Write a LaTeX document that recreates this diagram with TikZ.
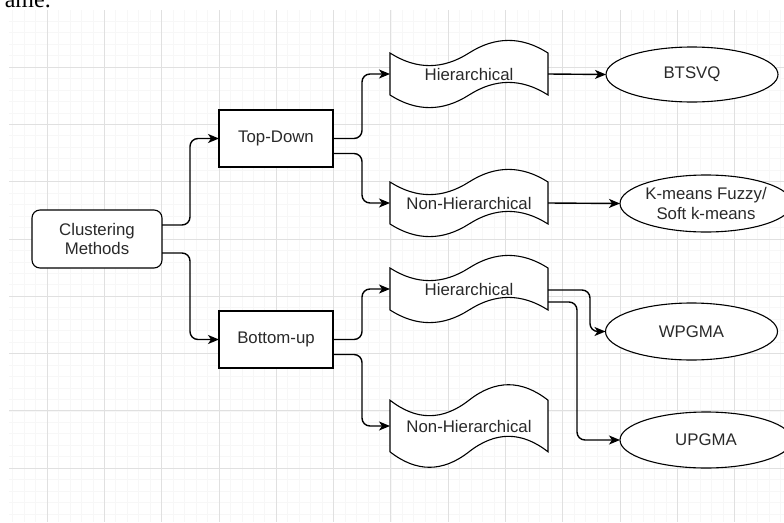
\documentclass[tikz,border=0pt]{standalone}
\usepackage{fontspec}
\setmainfont{Liberation Sans}
\newfontfamily\bodyserif{Liberation Serif}
\usetikzlibrary{arrows.meta,shapes.geometric}

\pgfdeclarelayer{gridlayer}
\pgfdeclarelayer{shapelayer}
\pgfsetlayers{gridlayer,shapelayer,main}

\definecolor{majorgrid}{HTML}{E0E0E0}
\definecolor{minorgrid}{HTML}{F7F7F7}
\definecolor{labeltext}{HTML}{2A2A2A}

\tikzset{
  outline/.style={draw=black, line width=1.1pt},
  labelfont/.style={font=\fontsize{16.8}{19.5}\selectfont, text=labeltext},
  boxnode/.style={outline, fill=white, rectangle, minimum width=114pt,
    minimum height=57pt, inner sep=0pt, outer sep=0pt, labelfont},
  rootnode/.style={boxnode, rounded corners=8pt, minimum width=130pt,
    minimum height=58pt, align=center},
  tapenode/.style={rectangle, inner sep=0pt, outer sep=0pt,
    minimum width=158pt, labelfont},
  leafnode/.style={outline, fill=white, ellipse, minimum width=172pt,
    minimum height=56pt, inner sep=0pt, outer sep=0pt, labelfont, align=center},
  link/.style={draw=black, line width=1.4pt, rounded corners=8pt,
    -{Stealth[length=11pt,width=9pt,inset=3pt]}},
}

% wavy "tape" outline behind a node of width #2 and height #3
\newcommand\tapeoutline[3]{%
  \begin{pgfonlayer}{shapelayer}
  \begin{scope}[shift={(#1.north west)}]
    \filldraw[outline, fill=white]
      (0,0.2*#3) .. controls (#2/6,0.44*#3) and (#2/3,0.44*#3) .. (#2/2,0.2*#3)
      .. controls (2*#2/3,-0.04*#3) and (5*#2/6,-0.04*#3) .. (#2,0.2*#3)
      -- (#2,0.8*#3)
      .. controls (5*#2/6,0.56*#3) and (2*#2/3,0.56*#3) .. (#2/2,0.8*#3)
      .. controls (#2/3,1.04*#3) and (#2/6,1.04*#3) .. (0,0.8*#3) -- cycle;
  \end{scope}
  \end{pgfonlayer}}

\begin{document}
\begin{tikzpicture}[x=1pt, y=-1pt]
\useasboundingbox (0,0) rectangle (784,522);

% background grid
\begin{pgfonlayer}{gridlayer}
  \begin{scope}
    \clip (9,10) rectangle (784,522);
    \foreach \m in {-3,...,67} {
      \draw[minorgrid, line width=0.6pt] (47+11.46*\m,10) -- (47+11.46*\m,522);
    }
    \foreach \m in {0,...,45} {
      \draw[minorgrid, line width=0.6pt] (9,9.7+11.46*\m) -- (784,9.7+11.46*\m);
    }
    \foreach \k in {0,...,12} {
      \draw[majorgrid, line width=0.8pt] (47+57.3*\k,10) -- (47+57.3*\k,522);
    }
    \foreach \k in {0,...,8} {
      \draw[majorgrid, line width=0.8pt] (9,9.7+57.3*\k) -- (784,9.7+57.3*\k);
    }
  \end{scope}
\end{pgfonlayer}

% tail of the preceding sentence, cut by the page edge
\node[font=\bodyserif\fontsize{24}{24}\selectfont, anchor=base east, inner sep=0pt]
  (tail) at (51,7) {ame.};

% nodes
\node[rootnode] (cm) at (97,239) {Clustering\\Methods};
\node[boxnode] (td) at (276,138.5) {Top-Down};
\node[boxnode] (bu) at (276,339.5) {Bottom-up};

\node[tapenode, minimum height=70pt] (h1) at (469,74) {Hierarchical};
\node[tapenode, minimum height=70pt] (n1) at (469,203) {Non-Hierarchical};
\node[tapenode, minimum height=70pt] (h2) at (469,289) {Hierarchical};
\node[tapenode, minimum height=86pt] (n2) at (469,426) {Non-Hierarchical};
\tapeoutline{h1}{158}{70}
\tapeoutline{n1}{158}{70}
\tapeoutline{h2}{158}{70}
\tapeoutline{n2}{158}{86}

\node[leafnode, minimum height=55pt] (e1) at (692,74.5) {BTSVQ};
\node[leafnode, minimum height=57pt] (e2) at (706,203.5) {K-means Fuzzy/\\Soft k-means};
\node[leafnode, minimum height=57pt] (e3) at (691.5,331.5) {WPGMA};
\node[leafnode] (e4) at (706,440) {UPGMA};

% connectors
\draw[link] ([yshift=14pt]cm.east) -- ++(28,0) |- (td.west);
\draw[link] ([yshift=-14pt]cm.east) -- ++(28,0) |- (bu.west);

\draw[link] (td.east) -- ++(29,0) |- (h1.west);
\draw[link] ([yshift=-15pt]td.east) -- ++(29,0) |- (n1.west);
\draw[link] (bu.east) -- ++(29,0) |- (h2.west);
\draw[link] ([yshift=-15pt]bu.east) -- ++(29,0) |- (n2.west);

\draw[link] (h1.east) -- (e1.west);
\draw[link] (n1.east) -- (e2.west);
\draw[link] ([yshift=-1pt]h2.east) -- ++(42,0) |- (e3.west);
\draw[link] ([yshift=-13pt]h2.east) -- ++(29,0) |- (e4.west);
\end{tikzpicture}
\end{document}
